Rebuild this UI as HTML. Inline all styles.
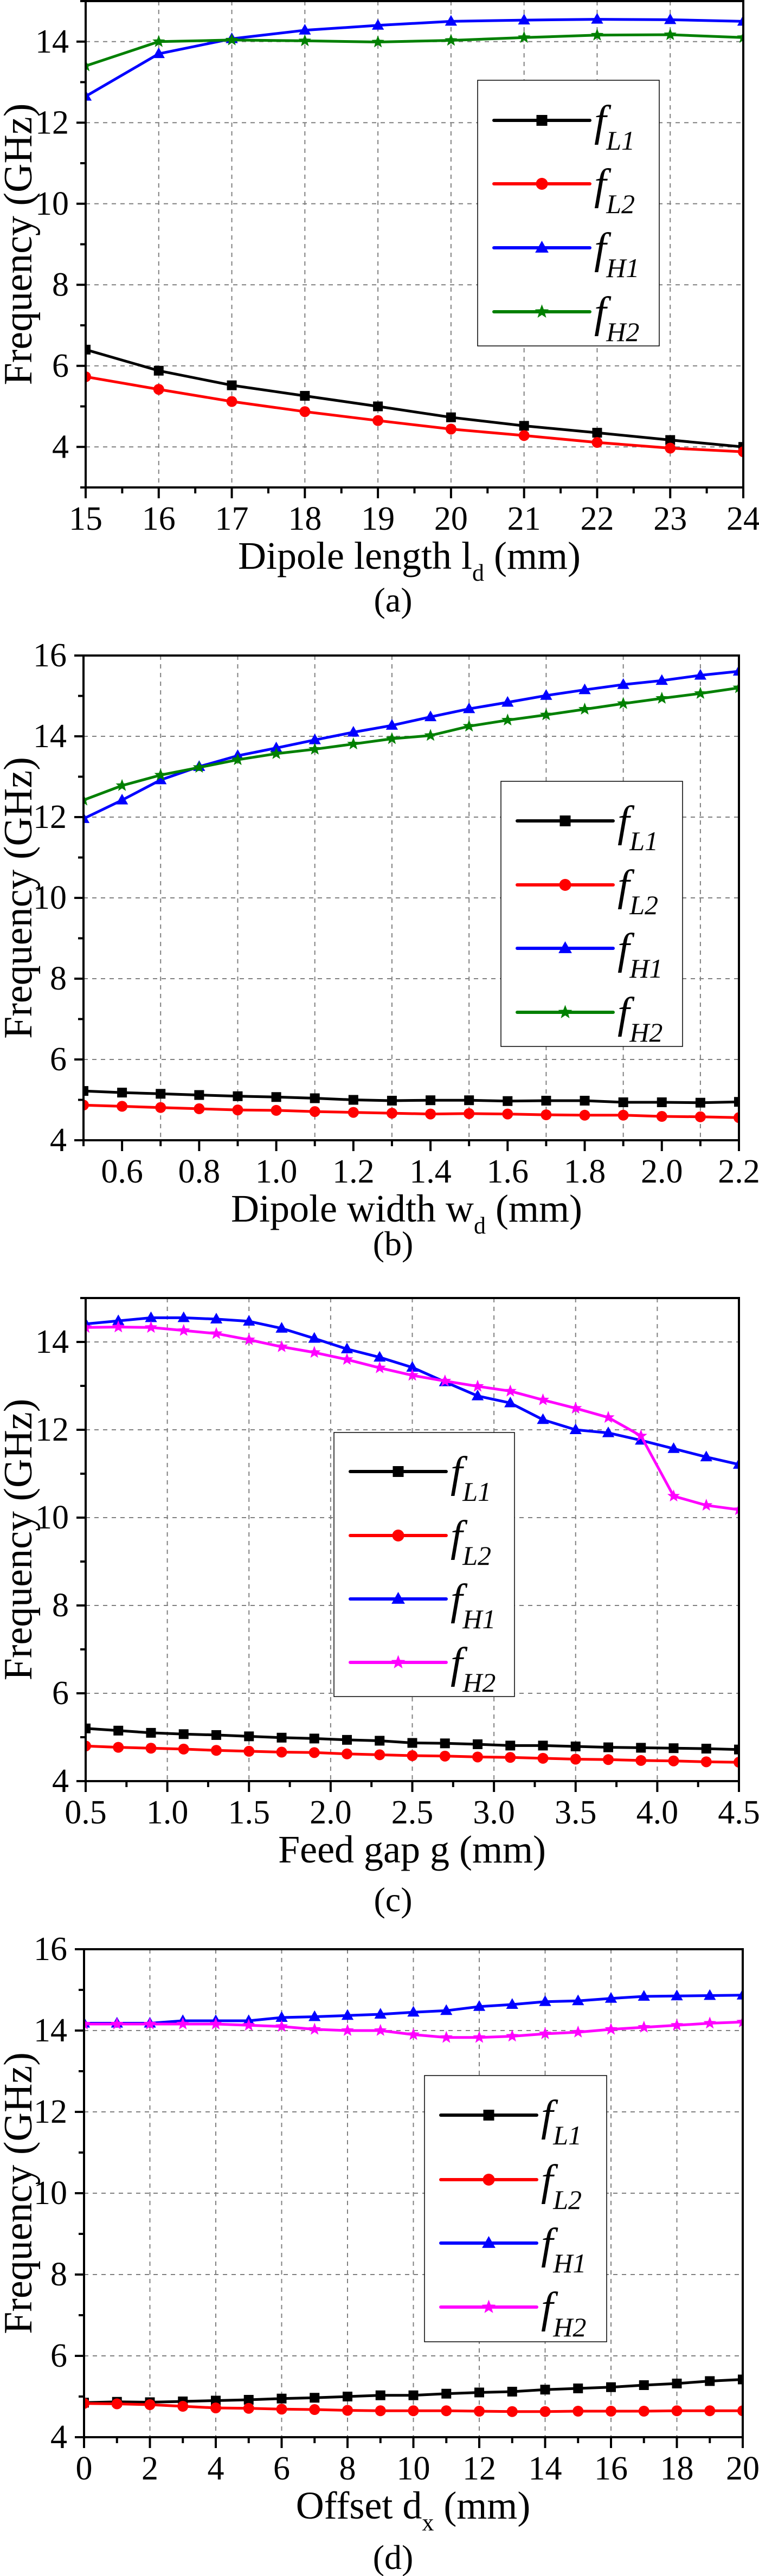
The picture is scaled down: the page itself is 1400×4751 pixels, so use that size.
<!DOCTYPE html>
<html><head><meta charset="utf-8">
<style>
html,body{margin:0;padding:0;background:#fff;}
svg{display:block;font-family:"Liberation Serif",serif;}
</style></head>
<body>
<svg id="fig" width="1400" height="4751" viewBox="0 0 1400 4751" xmlns="http://www.w3.org/2000/svg"></svg>
<script>
// ---------- Panel (a) data ----------
const aX = [15,16,17,18,19,20,21,22,23,24];
const aL1 = [6.4,5.88,5.52,5.26,5.0,4.73,4.52,4.35,4.17,4.0];
const aL2 = [5.73,5.42,5.12,4.87,4.65,4.44,4.28,4.11,3.97,3.88];
const aH1 = [12.65,13.7,14.07,14.28,14.4,14.5,14.53,14.55,14.54,14.5];
const aH2 = [13.4,14.0,14.04,14.02,13.99,14.03,14.1,14.16,14.17,14.1];
const aXTicks = ["15","16","17","18","19","20","21","22","23","24"];
const aYTicks = ["4","6","8","10","12","14"];
// ---------- Panel (b) data ----------
const bX = [0.5,0.6,0.7,0.8,0.9,1.0,1.1,1.2,1.3,1.4,1.5,1.6,1.7,1.8,1.9,2.0,2.1,2.2];
const bL1 = [5.22,5.18,5.15,5.12,5.09,5.07,5.04,5.0,4.98,4.99,4.99,4.97,4.98,4.98,4.94,4.94,4.93,4.95];
const bL2 = [4.87,4.84,4.81,4.78,4.75,4.74,4.71,4.69,4.67,4.65,4.66,4.65,4.63,4.62,4.62,4.59,4.58,4.56];
const bH1 = [11.96,12.42,12.92,13.25,13.52,13.71,13.91,14.1,14.27,14.48,14.68,14.84,15.01,15.15,15.28,15.38,15.51,15.61];
const bH2 = [12.42,12.78,13.04,13.23,13.42,13.57,13.68,13.81,13.94,14.02,14.25,14.4,14.53,14.67,14.81,14.94,15.06,15.2];
const bXTicks = ["0.6","0.8","1.0","1.2","1.4","1.6","1.8","2.0","2.2"];
const bYTicks = ["4","6","8","10","12","14","16"];
// ---------- Panel (c) data ----------
const cX = [0.5,0.7,0.9,1.1,1.3,1.5,1.7,1.9,2.1,2.3,2.5,2.7,2.9,3.1,3.3,3.5,3.7,3.9,4.1,4.3,4.5];
const cL1 = [5.2,5.15,5.1,5.07,5.05,5.02,4.99,4.97,4.94,4.92,4.87,4.86,4.84,4.81,4.81,4.79,4.77,4.76,4.75,4.74,4.72];
const cL2 = [4.8,4.77,4.75,4.73,4.7,4.68,4.66,4.65,4.62,4.6,4.58,4.57,4.55,4.54,4.52,4.5,4.49,4.47,4.46,4.44,4.43];
const cH1 = [14.41,14.48,14.55,14.55,14.52,14.47,14.31,14.08,13.84,13.65,13.42,13.09,12.77,12.61,12.23,12.0,11.93,11.76,11.57,11.38,11.21];
const cH2 = [14.33,14.34,14.33,14.26,14.19,14.05,13.89,13.76,13.6,13.41,13.24,13.11,12.99,12.88,12.68,12.49,12.28,11.86,10.49,10.28,10.18];
const cXTicks = ["0.5","1.0","1.5","2.0","2.5","3.0","3.5","4.0","4.5"];
const cYTicks = ["4","6","8","10","12","14"];
// ---------- Panel (d) data ----------
const dX = [0,1,2,3,4,5,6,7,8,9,10,11,12,13,14,15,16,17,18,19,20];
const dL1 = [4.85,4.87,4.86,4.88,4.9,4.92,4.95,4.97,5.0,5.03,5.03,5.07,5.1,5.12,5.17,5.2,5.23,5.28,5.32,5.38,5.42];
const dL2 = [4.83,4.82,4.8,4.76,4.72,4.71,4.69,4.68,4.66,4.65,4.65,4.65,4.64,4.63,4.63,4.64,4.64,4.64,4.65,4.65,4.65];
const dH1 = [14.18,14.18,14.18,14.24,14.24,14.24,14.32,14.34,14.37,14.4,14.45,14.49,14.59,14.64,14.71,14.73,14.79,14.84,14.85,14.86,14.87];
const dH2 = [14.16,14.16,14.16,14.16,14.16,14.13,14.1,14.03,14.0,14.0,13.9,13.83,13.83,13.86,13.92,13.96,14.03,14.08,14.13,14.18,14.21];
const dXTicks = ["0","2","4","6","8","10","12","14","16","18","20"];
const dYTicks = ["4","6","8","10","12","14","16"];

const NS = "http://www.w3.org/2000/svg";
const svg = document.getElementById("fig");
function mk(tag, attrs, parent){
  const e = document.createElementNS(NS, tag);
  for (const k in attrs) e.setAttribute(k, attrs[k]);
  (parent||svg).appendChild(e);
  return e;
}

function marker(g, kind, x, y, color, s){
  let m;
  if (kind === "square") m = mk("rect",{x:x-s/2,y:y-s/2,width:s,height:s,fill:color},g);
  else if (kind === "circle") m = mk("circle",{cx:x,cy:y,r:s/2+1,fill:color},g);
  else if (kind === "triangle") { const h=s*1.05; m = mk("polygon",{points:`${x},${y-h*0.62} ${x-s*0.62},${y+h*0.42} ${x+s*0.62},${y+h*0.42}`,fill:color},g); }
  else {
    let pts=[]; const R=s*0.68, r=R*0.42;
    for(let i=0;i<10;i++){const a=-Math.PI/2+i*Math.PI/5; const rr=i%2?r:R; pts.push((x+rr*Math.cos(a)).toFixed(1)+","+(y+rr*Math.sin(a)).toFixed(1));}
    m = mk("polygon",{points:pts.join(" "),fill:color},g);
  }
  return m;
}

function panel(cfg){
  const {id,L,R,T,B,xmin,xmax,ymin,ymax,xMajor,xMinor,xLabelStart,xTicks,yTicks,seriesX,series,h2Color,legend,title,sub,titleRest,titleX,caption} = cfg;
  const g = mk("g",{});
  
  
  const sx = v => L + (v-xmin)/(xmax-xmin)*(R-L);
  const sy = v => B - (v-ymin)/(ymax-ymin)*(B-T);
  const clipId = "clip"+id;
  const defs = mk("defs",{},g);
  const cp = mk("clipPath",{id:clipId},defs);
  mk("rect",{x:L,y:T,width:R-L,height:B-T},cp);
  // grid
  const grid = mk("g",{stroke:"#808080","stroke-width":2,"stroke-dasharray":"8 8"},g);
  
  
  const nX = Math.round((xmax-xmin)/xMajor);
  for(let i=0;i<=nX;i++){const v=xmin+i*xMajor; const x=sx(v); if(x>L+2&&x<R-2) mk("line",{x1:x,y1:T,x2:x,y2:B},grid);}
  for(let v=Math.ceil(ymin/2)*2; v<=ymax; v+=2){const y=sy(v); if(y>T+2&&y<B-2) mk("line",{x1:L,y1:y,x2:R,y2:y},grid);}
  // series
  const sg = mk("g",{"clip-path":`url(#${clipId})`},g);
  const colors = ["#000000","#ff0000","#0000ff",h2Color];
  const kinds = ["square","circle","triangle","star"];
  const names = ["fL1","fL2","fH1","fH2"];
  series.forEach((vals,si)=>{
    const pts = vals.map((v,i)=>sx(seriesX[i]).toFixed(1)+","+sy(v).toFixed(1)).join(" ");
    const pl = mk("polyline",{points:pts,fill:"none",stroke:colors[si],"stroke-width":5,"stroke-linejoin":"round"},sg);
    
    
    vals.forEach((v,i)=>{
      const m = marker(sg,kinds[si],sx(seriesX[i]),sy(v),colors[si],18);
      
      
    });
  });
  // frame
  const fr = mk("rect",{x:L,y:T,width:R-L,height:B-T,fill:"none",stroke:"#000","stroke-width":4},g);
  
  
  // x ticks
  const xt = mk("g",{stroke:"#000","stroke-width":4},g);
  const nMin = Math.round((xmax-xmin)/xMinor);
  for(let i=0;i<=nMin;i++){
    const v=xmin+i*xMinor; const x=sx(v);
    const isMaj = Math.abs(((v-xLabelStart)/xMajor)-Math.round((v-xLabelStart)/xMajor))<1e-6;
    mk("line",{x1:x,y1:B,x2:x,y2:B+(isMaj?20:11)},xt);
  }
  xTicks.forEach((lab,i)=>{
    const v = xLabelStart + i*xMajor;
    const t = mk("text",{x:sx(v),y:B+78,"font-size":62,"text-anchor":"middle",fill:"#000"},g);
    t.textContent = lab;
    
    
  });
  // y ticks
  const yt = mk("g",{stroke:"#000","stroke-width":4},g);
  for(let v=Math.ceil(ymin); v<=ymax; v+=1){
    const y=sy(v); mk("line",{x1:L,y1:y,x2:L-(v%2===0?17:10),y2:y},yt);
  }
  yTicks.forEach(lab=>{
    const v = parseFloat(lab);
    const t = mk("text",{x:L-31,y:sy(v)+20,"font-size":62,"text-anchor":"end",fill:"#000"},g);
    t.textContent = lab;
    
    
  });
  // y title
  const yc = (T+B)/2;
  const ytl = mk("text",{x:0,y:0,"font-size":74,"text-anchor":"middle",fill:"#000",transform:`translate(58,${yc}) rotate(-90)`},g);
  ytl.textContent = "Frequency (GHz)";
  
  
  // x title
  const xtl = mk("text",{x:titleX,y:B+150,"font-size":72,"text-anchor":"middle",fill:"#000"},g);
  
  
  const s1 = mk("tspan",{},xtl); s1.textContent = title;
  const s2 = mk("tspan",{dy:22,"font-size":44},xtl); s2.textContent = sub;
  const s3 = mk("tspan",{dy:-22},xtl); s3.textContent = titleRest;
  const cap = mk("text",{x:725,y:caption,"font-size":64,"text-anchor":"middle",fill:"#000"},g);
  cap.textContent = "("+id+")";
  
  
  // legend
  const lg = mk("g",{},g);
  
  
  mk("rect",{x:legend.x1,y:legend.y1,width:legend.x2-legend.x1,height:legend.y2-legend.y1,fill:"#fff",stroke:"#000","stroke-width":1.5},lg);
  const subs=["L1","L2","H1","H2"];
  legend.ys.forEach((y,i)=>{
    const e = mk("g",{},lg);
    
    
    const lx1 = legend.x1+30, lx2 = lx1+177;
    mk("line",{x1:lx1,y1:y,x2:lx2,y2:y,stroke:colors[i],"stroke-width":6,"stroke-linecap":"round"},e);
    marker(e,kinds[i],(lx1+lx2)/2,y,colors[i],20);
    const t = mk("text",{x:lx2+8,y:y+28,"font-size":80,"font-style":"italic",fill:"#000"},e);
    const a = mk("tspan",{},t); a.textContent="f";
    const b = mk("tspan",{dy:26,"font-size":50},t); b.textContent=subs[i];
  });
}

panel({id:"a",L:158,R:1371,T:2,B:899,xmin:15,xmax:24,ymin:3,ymax:15,xMajor:1,xMinor:0.5,xLabelStart:15,xTicks:aXTicks,yTicks:aYTicks,
  seriesX:aX,series:[aL1,aL2,aH1,aH2],h2Color:"#008000",
  legend:{x1:881,x2:1216,y1:148,y2:638,ys:[222,339,457,575]},
  title:"Dipole length l",sub:"d",titleRest:" (mm)",titleX:755,caption:1128});
panel({id:"b",L:154,R:1363,T:1209,B:2103,xmin:0.5,xmax:2.2,ymin:4,ymax:16,xMajor:0.2,xMinor:0.1,xLabelStart:0.6,xTicks:bXTicks,yTicks:bYTicks,
  seriesX:bX,series:[bL1,bL2,bH1,bH2],h2Color:"#008000",
  legend:{x1:924,x2:1259,y1:1441,y2:1930,ys:[1514,1632,1749,1867]},
  title:"Dipole width w",sub:"d",titleRest:" (mm)",titleX:750,caption:2315});
panel({id:"c",L:158,R:1363,T:2394,B:3285,xmin:0.5,xmax:4.5,ymin:4,ymax:15,xMajor:0.5,xMinor:0.25,xLabelStart:0.5,xTicks:cXTicks,yTicks:cYTicks,
  seriesX:cX,series:[cL1,cL2,cH1,cH2],h2Color:"#ff00ff",
  legend:{x1:616,x2:949,y1:2642,y2:3129,ys:[2714,2832,2949,3066]},
  title:"Feed gap g (mm)",sub:"",titleRest:"",titleX:760,caption:3525});
panel({id:"d",L:155,R:1370,T:3595,B:4495,xmin:0,xmax:20,ymin:4,ymax:16,xMajor:2,xMinor:1,xLabelStart:0,xTicks:dXTicks,yTicks:dYTicks,
  seriesX:dX,series:[dL1,dL2,dH1,dH2],h2Color:"#ff00ff",
  legend:{x1:783,x2:1119,y1:3828,y2:4319,ys:[3901,4020,4137,4255]},
  title:"Offset d",sub:"x",titleRest:" (mm)",titleX:762,caption:4738});
</script>
</body></html>
